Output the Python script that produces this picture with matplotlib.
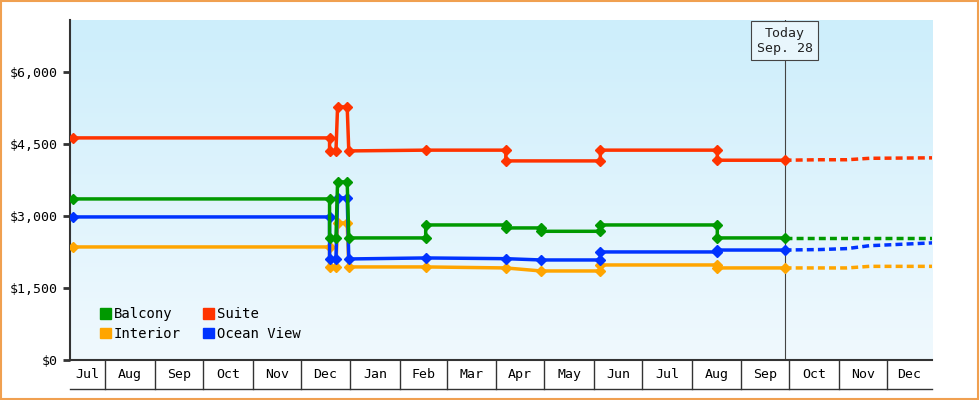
import numpy as np
import pandas as pd
import matplotlib
matplotlib.use("Agg")
import matplotlib.pyplot as plt
import matplotlib.transforms as mtrans

plt.rcParams['font.family'] = ['DejaVu Sans Mono']

#------price history (solid) and forecast (dashed)------
suite_dates = ['2023-07-12', '2023-12-19', '2023-12-19', '2023-12-23', '2023-12-24', '2023-12-30',
               '2023-12-31', '2024-02-17', '2024-04-07', '2024-04-07', '2024-06-05', '2024-06-05',
               '2024-08-17', '2024-08-17', '2024-09-28']
suite_vals = [4625, 4625, 4354, 4354, 5270, 5270, 4354, 4370, 4370, 4146, 4146, 4370, 4370, 4160, 4160]

balcony_dates = ['2023-07-12', '2023-12-19', '2023-12-19', '2023-12-23', '2023-12-24', '2023-12-30',
                 '2023-12-31', '2024-02-17', '2024-02-17', '2024-04-07', '2024-04-07', '2024-04-29',
                 '2024-04-29', '2024-06-05', '2024-06-05', '2024-08-17', '2024-08-17', '2024-09-28']
balcony_vals = [3354, 3354, 2542, 2542, 3708, 3708, 2542, 2542, 2812, 2812, 2750, 2750,
                2680, 2680, 2812, 2812, 2542, 2542]

ocean_dates = ['2023-07-12', '2023-12-19', '2023-12-19', '2023-12-23', '2023-12-24', '2023-12-30',
               '2023-12-31', '2024-02-17', '2024-04-07', '2024-04-29', '2024-06-05', '2024-06-05',
               '2024-08-17', '2024-08-17', '2024-09-28']
ocean_vals = [2979, 2979, 2104, 2104, 3375, 3375, 2104, 2125, 2110, 2083, 2083, 2250, 2250, 2290, 2290]

interior_dates = ['2023-07-12', '2023-12-19', '2023-12-19', '2023-12-23', '2023-12-24', '2023-12-30',
                  '2023-12-31', '2024-02-17', '2024-04-07', '2024-04-29', '2024-06-05', '2024-06-05',
                  '2024-08-17', '2024-08-17', '2024-09-28']
interior_vals = [2354, 2354, 1938, 1938, 2854, 2854, 1938, 1938, 1917, 1854, 1854, 1979, 1979, 1917, 1917]

fc_dates = ['2024-09-28', '2024-10-20', '2024-11-06', '2024-11-20', '2024-12-30']
suite_fc = [4160, 4170, 4170, 4200, 4210]
balcony_fc = [2542, 2542, 2542, 2542, 2542]
ocean_fc = [2290, 2300, 2320, 2380, 2440]
interior_fc = [1917, 1917, 1917, 1950, 1950]

series = [('Balcony', '#009900', balcony_dates, balcony_vals, balcony_fc),
          ('Suite', '#ff3300', suite_dates, suite_vals, suite_fc),
          ('Interior', '#ffa500', interior_dates, interior_vals, interior_fc),
          ('Ocean View', '#0033ff', ocean_dates, ocean_vals, ocean_fc)]

yticks = [0, 1500, 3000, 4500, 6000]
today = '2024-09-28'

fig = plt.figure(figsize=(9.8, 4), dpi=100)
fig.patch.set_facecolor('white')
fig.patches.append(plt.Rectangle((0.001, 0.002), 0.997, 0.995, transform=fig.transFigure,
                                 fill=False, edgecolor='#f0a050', linewidth=1.5))
ax = fig.add_axes([70/980, 40/400, 862/980, 340/400])

x0, x1 = pd.Timestamp('2023-07-10'), pd.Timestamp('2024-12-29')
ax.set_xlim(x0, x1)
ax.set_ylim(0, 7080)

#gradient background
grad = np.linspace(0, 1, 256).reshape(-1, 1)
cmap = matplotlib.colors.LinearSegmentedColormap.from_list('bg', ['#f0f9fe', '#cdeefb'])
ax.imshow(grad, cmap=cmap, aspect='auto', origin='lower', extent=[0, 1, 0, 1],
          transform=ax.transAxes, zorder=0)

# draw in reverse so Balcony sits on top like the original
for name, col, d, v, fc in [series[1], series[2], series[3], series[0]]:
    ax.plot(pd.to_datetime(d), v, color=col, linewidth=2.5, marker='D', markersize=5, zorder=3)
    ax.plot(pd.to_datetime(fc_dates), fc, color=col, linewidth=2.5, linestyle=(0, (2, 1.2)), zorder=3)

#today line and box
t = pd.Timestamp(today)
ax.axvline(t, color='#444444', linewidth=0.8, zorder=2)
ax.text(t, 6650, 'Today\nSep. 28', ha='center', va='center', fontsize=9.5, color='#222222',
        bbox=dict(boxstyle='square,pad=0.4', fc='#e8f6fc', ec='#444444', lw=0.8), zorder=5)

#y axis
ax.set_yticks(yticks)
ax.set_yticklabels(['$0'] + ['${:,}'.format(y) for y in yticks[1:]], fontsize=9.5)
ax.tick_params(axis='y', length=5, width=2, color='#333333')
for s in ['top', 'right']:
    ax.spines[s].set_visible(False)
for s in ['left', 'bottom']:
    ax.spines[s].set_linewidth(1.5)
    ax.spines[s].set_color('#333333')

#month boxes under the axis
bounds = pd.date_range('2023-08-01', '2024-12-01', freq='MS')
edges = [x0] + list(bounds) + [x1]
ax.set_xticks([])
tr = mtrans.blended_transform_factory(ax.transData, ax.transAxes)
for a, b in zip(edges[:-1], edges[1:]):
    mid = a + (b - a) / 2
    ax.text(mid, -0.043, a.strftime('%b') if a != x0 else 'Jul', transform=tr,
            ha='center', va='center', fontsize=9.5)
for b in bounds:
    ax.plot([b, b], [0, -0.085], transform=tr, color='#333333', lw=1, clip_on=False)
ax.plot([x0, x1], [-0.085, -0.085], transform=tr, color='#333333', lw=1, clip_on=False)

#legend, row-wise order: Balcony Suite / Interior Ocean View
order = [0, 2, 1, 3]
handles = [plt.Rectangle((0, 0), 1, 1, color=series[i][1]) for i in order]
ax.legend(handles, [series[i][0] for i in order], ncol=2, loc='lower left',
          bbox_to_anchor=(0.02, 0.02), frameon=False, fontsize=10, handlelength=0.8,
          handleheight=0.8, handletextpad=0.2, columnspacing=1.6, labelspacing=0.4)

fig.savefig('out.png', dpi=100)
